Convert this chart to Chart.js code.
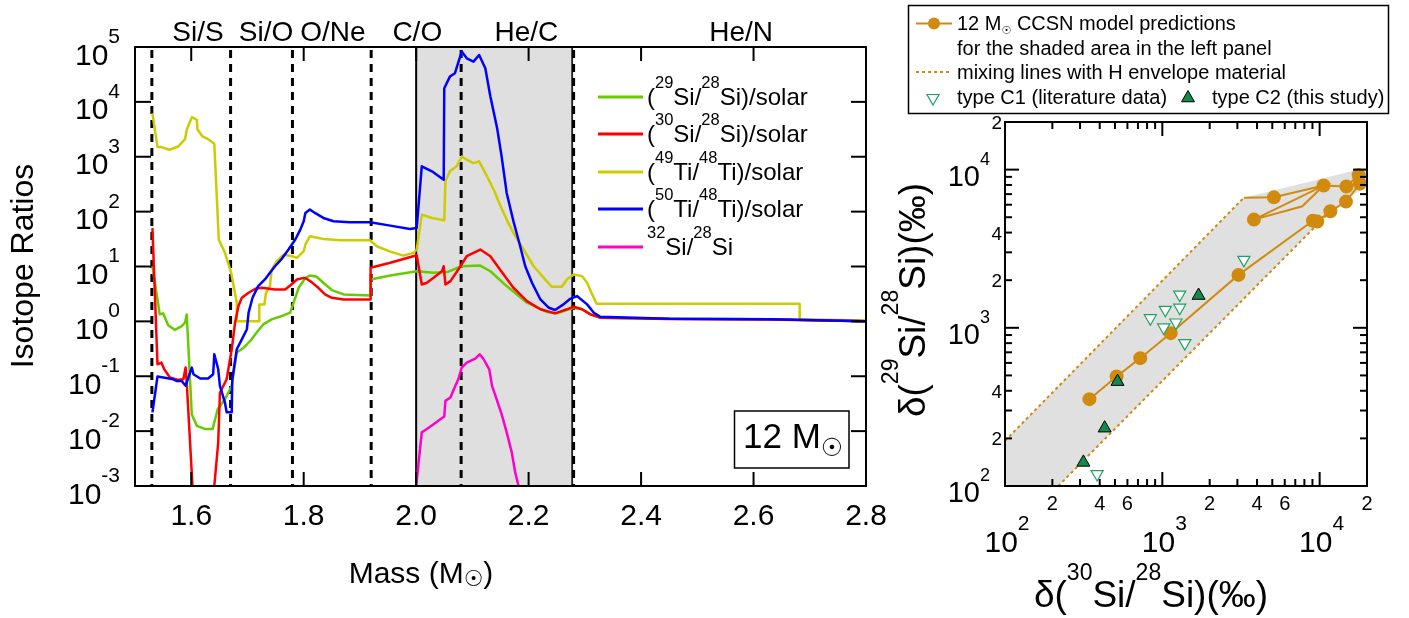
<!DOCTYPE html>
<html lang="en">
<head>
<meta charset="UTF-8">
<title>12 Msun CCSN isotope ratios</title>
<style>
    body { margin: 0; background: #fff; }
    #wrap { position: relative; width: 1409px; height: 618px; }
    canvas { position: absolute; top: 0; }
    #left { left: 0; }
    #right { left: 880px; }
</style>
<script src="https://cdn.jsdelivr.net/npm/chart.js"></script>
</head>
<body>
<div id="wrap">
    <canvas id="left" width="900" height="618"></canvas>
    <canvas id="right" width="529" height="618"></canvas>
</div>
<script>
// ---------- left panel: isotope ratios across the 12 Msun zones ----------
const si29Mass = [1.531,1.544,1.550,1.559,1.571,1.583,1.589,1.592,1.601,1.610,1.625,1.638,1.647,1.660,1.672,1.681,1.693,1.705,1.716,1.728,1.743,1.761,1.776,1.782,1.791,1.803,1.811,1.823,1.835,1.850,1.871,1.919,1.919,1.954,2.001,2.031,2.055,2.081,2.114,2.132,2.161,2.197,2.233,2.250,2.280,2.295,2.310,2.327,2.45,2.63,2.80];
const si29Ratio = [10.1,1.34,1.40,0.85,0.70,0.82,0.95,1.34,0.020,0.0125,0.0109,0.0109,0.025,0.038,0.067,0.27,0.33,0.44,0.62,0.88,1.09,1.25,1.44,2.18,4.09,6.2,6.85,6.5,5.05,3.72,3.10,2.97,5.8,6.85,8.2,7.7,7.9,10.1,10.4,8.2,4.4,2.19,1.48,1.40,1.77,1.66,1.34,1.17,1.12,1.09,1.01];

const si30Mass = [1.531,1.540,1.547,1.552,1.562,1.577,1.586,1.590,1.592,1.606,1.637,1.641,1.648,1.651,1.663,1.672,1.678,1.684,1.690,1.702,1.714,1.725,1.749,1.767,1.776,1.788,1.800,1.805,1.814,1.826,1.838,1.850,1.871,1.919,1.919,1.954,2.001,2.010,2.019,2.031,2.046,2.049,2.052,2.061,2.075,2.090,2.114,2.132,2.149,2.173,2.197,2.221,2.247,2.268,2.280,2.295,2.310,2.327,2.45,2.63,2.80];
const si30Ratio = [50,0.165,0.177,0.134,0.095,0.086,0.088,0.144,0.077,0.0002,0.0002,0.00101,0.0062,0.050,0.088,0.31,0.95,1.90,2.69,3.32,3.93,4.09,3.82,3.82,4.5,5.8,6.2,5.97,5.19,4.09,3.10,2.69,2.51,2.51,9.46,11.7,16,4.71,5.05,6.22,8.24,10.1,4.71,5.42,8.83,15.4,20.4,15.4,8.83,4.10,2.34,1.66,1.40,1.66,1.85,1.66,1.34,1.17,1.11,1.08,1.01];

const ti49Mass = [1.531,1.540,1.547,1.561,1.577,1.589,1.592,1.601,1.610,1.611,1.620,1.630,1.641,1.649,1.660,1.671,1.681,1.681,1.721,1.721,1.730,1.733,1.740,1.743,1.752,1.764,1.779,1.788,1.800,1.803,1.811,1.835,1.865,1.918,1.930,1.954,1.977,1.995,2.001,2.010,2.028,2.050,2.052,2.060,2.072,2.081,2.090,2.102,2.112,2.123,2.138,2.149,2.161,2.173,2.191,2.209,2.227,2.241,2.259,2.268,2.280,2.295,2.304,2.313,2.321,2.682,2.682,2.80];
const ti49Ratio = [6200,1500,1500,1340,1540,2090,3100,5260,4700,3180,2340,2090,1720,31,17.7,7.66,2.18,1.01,1.01,2.04,2.04,3.32,4.39,8.8,12.5,16.5,15.4,14.4,19.0,25.1,35.6,31.8,30.1,30.1,23.4,18.7,15.8,17.7,20.4,88,76.7,69.7,357,542,668,1010,883,767,824,506,251,134,71.6,41.0,20.4,10.1,6.22,4.28,4.28,5.81,7.16,6.68,5.05,3.10,2.10,2.10,1.09,1.04];

const ti50Mass = [1.531,1.540,1.568,1.574,1.583,1.590,1.595,1.601,1.604,1.616,1.630,1.639,1.641,1.648,1.651,1.660,1.663,1.672,1.673,1.681,1.690,1.699,1.702,1.709,1.719,1.731,1.740,1.749,1.761,1.773,1.785,1.794,1.800,1.803,1.811,1.820,1.835,1.853,1.882,1.918,1.954,1.989,2.001,2.010,2.028,2.049,2.050,2.060,2.069,2.081,2.090,2.102,2.112,2.123,2.132,2.144,2.152,2.161,2.173,2.185,2.194,2.206,2.221,2.236,2.247,2.262,2.274,2.286,2.304,2.316,2.327,2.45,2.63,2.80];
const ti50Ratio = [0.022,0.099,0.088,0.082,0.082,0.067,0.095,0.144,0.109,0.091,0.091,0.109,0.251,0.134,0.067,0.033,0.022,0.022,0.088,0.31,0.47,0.72,1.44,2.69,4.39,5.81,7.67,10.1,13.8,20.4,31,47,66.7,94.6,109,94.6,76.7,66.7,64,64,55.6,48.4,50.5,668,542,382,17700,28900,33300,82400,62200,54200,71600,41000,12500,3320,1010,219,66.8,23.4,10.1,5.05,2.51,1.77,1.61,2.04,2.58,2.89,2.04,1.44,1.22,1.12,1.09,1.01];

const si32Mass = [2.000,2.010,2.019,2.031,2.043,2.050,2.052,2.061,2.067,2.075,2.081,2.090,2.105,2.113,2.120,2.130,2.135,2.143,2.152,2.161,2.170,2.176,2.182];
const si32Ratio = [0.001,0.0095,0.0109,0.0134,0.0165,0.0185,0.0356,0.0409,0.0581,0.0881,0.144,0.177,0.209,0.251,0.204,0.134,0.0667,0.0382,0.0204,0.0095,0.0041,0.0018,0.001];

const zoneBounds = [1.53, 1.67, 1.78, 1.92, 2.08, 2.28];
const zoneNames = ['Si/S', 'Si/O', 'O/Ne', 'C/O', 'He/C', 'He/N'];
const shadedMass = [2.0, 2.28];
const massTicks = [1.6, 1.8, 2.0, 2.2, 2.4, 2.6, 2.8];
const ratioDecades = [-3, -2, -1, 0, 1, 2, 3, 4, 5];

// ---------- right panel: delta values ----------
const modelD30 = [3300,5120,10600,3820,7760,10600,14800,17700,18000,14700,11700,9660,9060,3050,1130,724,512,344];
const modelD29 = [6650,6680,7930,4830,5860,7930,7830,9230,8150,6280,5450,4700,4750,2160,925,643,492,354];
const modelMarker = [0,1,1,1,0,0,1,1,1,1,1,1,1,1,1,1,1,1];
const mixUpperD30 = [100, 3300];
const mixUpperD29 = [193, 6650];
const mixLowerD30 = [218, 11700];
const mixLowerD29 = [100, 5450];
const shadeD30 = [100, 100, 3300, 20000, 20000, 11700, 218];
const shadeD29 = [100, 193, 6650, 10300, 8000, 5450, 100];
const c1D30 = [3300, 1290, 1290, 1045, 839, 1020, 1220, 1390, 385];
const c1D29 = [2690, 1620, 1340, 1300, 1150, 1005, 1080, 800, 119];
const c2D30 = [1700, 519, 430, 315];
const c2D29 = [1600, 457, 232, 141];
const deltaDecades = [2, 3, 4];

const FONT = '"Liberation Sans", Arial, sans-serif';
const ORANGE = '#d08b0f';

// text with superscripts (kind 1) and the solar symbol (kind 2)
function rich(ctx, segs, x, y, o) {
    const fontOf = k => k === 1 ? o.sup + 'px ' + FONT : k === 2 ? o.sun + 'px "DejaVu Sans"' : o.size + 'px ' + FONT;
    const widths = segs.map(([t, k]) => { ctx.font = fontOf(k); return ctx.measureText(t).width; });
    const total = widths.reduce((s, w) => s + w, 0);
    let cx = o.align === 'center' ? x - total / 2 : o.align === 'right' ? x - total : x;
    ctx.textAlign = 'left';
    ctx.textBaseline = 'alphabetic';
    segs.forEach(([t, k], i) => {
        ctx.font = fontOf(k);
        const dy = k === 1 ? -o.size * 0.72 : k === 2 ? (o.sunDy || 0) : 0;
        ctx.fillText(t, cx, y + dy);
        cx += widths[i];
    });
    return total;
}

function line(ctx, x0, y0, x1, y1) {
    ctx.beginPath(); ctx.moveTo(x0, y0); ctx.lineTo(x1, y1); ctx.stroke();
}

function triangle(ctx, x, y, r, down) {
    const h = down ? -1 : 1;
    ctx.beginPath();
    ctx.moveTo(x, y - h * r);
    ctx.lineTo(x + r * 0.866, y + h * r * 0.5);
    ctx.lineTo(x - r * 0.866, y + h * r * 0.5);
    ctx.closePath();
}

const leftLegend = [
    { color: '#66cc00', segs: [['(', 0], ['29', 1], ['Si/', 0], ['28', 1], ['Si)/solar', 0]] },
    { color: '#ff0000', segs: [['(', 0], ['30', 1], ['Si/', 0], ['28', 1], ['Si)/solar', 0]] },
    { color: '#cccc00', segs: [['(', 0], ['49', 1], ['Ti/', 0], ['48', 1], ['Ti)/solar', 0]] },
    { color: '#0000ff', segs: [['(', 0], ['50', 1], ['Ti/', 0], ['48', 1], ['Ti)/solar', 0]] },
    { color: '#ff00cc', segs: [['32', 1], ['Si/', 0], ['28', 1], ['Si', 0]] }
];
const zoneLabelMass = [1.612, 1.733, 1.852, 2.002, 2.196, 2.578];

const leftDeco = {
    id: 'leftDeco',
    beforeDatasetsDraw(chart) {
        const { ctx, chartArea: a, scales: { x } } = chart;
        ctx.save();
        const s0 = x.getPixelForValue(shadedMass[0]);
        const s1 = x.getPixelForValue(shadedMass[1]);
        ctx.fillStyle = '#dfdfdf';
        ctx.fillRect(s0, a.top, s1 - s0, a.bottom - a.top);
        ctx.strokeStyle = '#000';
        ctx.lineWidth = 2;
        line(ctx, s0, a.top, s0, a.bottom);
        ctx.lineWidth = 1.5;
        line(ctx, s1 - 1.5, a.top, s1 - 1.5, a.bottom);
        ctx.lineWidth = 3;
        ctx.setLineDash([8, 6]);
        zoneBounds.forEach(m => {
            const px = x.getPixelForValue(m);
            line(ctx, px, a.top + 3, px, a.bottom);
        });
        ctx.restore();
    },
    afterDatasetsDraw(chart) {
        const { ctx, chartArea: a, scales: { x, y } } = chart;
        ctx.save();
        ctx.strokeStyle = '#000';
        ctx.lineWidth = 2;
        ctx.strokeRect(a.left, a.top, a.right - a.left, a.bottom - a.top);
        massTicks.forEach(m => {
            const px = x.getPixelForValue(m);
            line(ctx, px, a.bottom, px, a.bottom - 14);
            line(ctx, px, a.top, px, a.top + 14);
        });
        ratioDecades.forEach(e => {
            const py = y.getPixelForValue(Math.pow(10, e));
            line(ctx, a.left, py, a.left + 16, py);
            line(ctx, a.right, py, a.right - 15, py);
        });
        ctx.restore();
    },
    afterDraw(chart) {
        const { ctx, chartArea: a, scales: { x, y } } = chart;
        ctx.save();
        ctx.fillStyle = '#000';
        // tick labels
        ctx.font = '30px ' + FONT;
        ctx.textAlign = 'center';
        ctx.textBaseline = 'alphabetic';
        massTicks.forEach(m => ctx.fillText(m.toFixed(1), x.getPixelForValue(m), a.bottom + 39));
        ratioDecades.forEach(e => {
            const py = y.getPixelForValue(Math.pow(10, e));
            rich(ctx, [['10', 0], [String(e), 1]], 120, py + 17.5, { size: 30, sup: 21, align: 'right' });
        });
        // zone names
        ctx.font = '28px ' + FONT;
        ctx.textAlign = 'center';
        zoneNames.forEach((n, i) => ctx.fillText(n, x.getPixelForValue(zoneLabelMass[i]), 41));
        // axis titles
        rich(ctx, [['Mass (M', 0], ['\u2609', 2], [')', 0]], 421, 583, { size: 30, sup: 20, sun: 22, sunDy: 3, align: 'center' });
        ctx.save();
        ctx.translate(33, 266);
        ctx.rotate(-Math.PI / 2);
        ctx.font = '32px ' + FONT;
        ctx.textAlign = 'center';
        ctx.fillText('Isotope Ratios', 0, 0);
        ctx.restore();
        // legend
        leftLegend.forEach((item, i) => {
            const ly = [97, 134, 172, 209, 247][i];
            ctx.strokeStyle = item.color;
            ctx.lineWidth = 3;
            line(ctx, 598, ly, 643, ly);
            ctx.fillStyle = '#000';
            rich(ctx, item.segs, 647, ly + 8, { size: 24, sup: 16.5 });
        });
        // mass box
        ctx.strokeStyle = '#000';
        ctx.lineWidth = 1.5;
        ctx.strokeRect(734.5, 411, 114.5, 57);
        rich(ctx, [['12 M', 0], ['\u2609', 2]], 743, 448, { size: 35, sup: 20, sun: 25, sunDy: 8 });
        ctx.restore();
    }
};

const series = [
    { mass: ti50Mass, ratio: ti50Ratio, color: '#0000ff', order: 0 },
    { mass: si30Mass, ratio: si30Ratio, color: '#ff0000', order: 1 },
    { mass: si29Mass, ratio: si29Ratio, color: '#66cc00', order: 2 },
    { mass: ti49Mass, ratio: ti49Ratio, color: '#cccc00', order: 3 },
    { mass: si32Mass, ratio: si32Ratio, color: '#ff00cc', order: 4 }
];

new Chart(document.getElementById('left'), {
    type: 'line',
    data: {
        datasets: series.map(s => ({
            data: s.mass.map((m, i) => ({ x: m, y: s.ratio[i] })),
            borderColor: s.color,
            borderWidth: 2.5,
            borderJoinStyle: 'round',
            pointRadius: 0,
            tension: 0,
            fill: false,
            order: s.order
        }))
    },
    options: {
        responsive: false,
        animation: false,
        layout: { padding: { left: 135, top: 47, right: 34, bottom: 132 }, autoPadding: false },
        plugins: { legend: { display: false }, tooltip: { enabled: false } },
        scales: {
            x: { type: 'linear', min: 1.5, max: 2.8, display: false },
            y: { type: 'logarithmic', min: 1e-3, max: 1e5, display: false }
        }
    },
    plugins: [leftDeco]
});

// ---------- right panel ----------
const pts = (xs, ys) => xs.map((v, i) => ({ x: v, y: ys[i] }));

const rightDeco = {
    id: 'rightDeco',
    afterDatasetsDraw(chart) {
        const { ctx, chartArea: a, scales: { x, y } } = chart;
        ctx.save();
        ctx.strokeStyle = '#000';
        ctx.lineWidth = 2;
        ctx.strokeRect(a.left, a.top, a.right - a.left, a.bottom - a.top);
        deltaDecades.forEach(e => {
            for (let k = 1; k <= 9; k++) {
                const v = k * Math.pow(10, e);
                if (v > 20000) break;
                const len = k === 1 ? 14 : 7;
                const px = x.getPixelForValue(v);
                const py = y.getPixelForValue(v);
                line(ctx, px, a.bottom, px, a.bottom - len);
                line(ctx, px, a.top, px, a.top + len);
                line(ctx, a.left, py, a.left + len, py);
                line(ctx, a.right, py, a.right - len, py);
            }
        });
        ctx.restore();
    },
    afterDraw(chart) {
        const { ctx, chartArea: a, scales: { x, y } } = chart;
        ctx.save();
        ctx.fillStyle = '#000';
        // minor labels
        ctx.textBaseline = 'alphabetic';
        ctx.font = '20px ' + FONT;
        ctx.textAlign = 'center';
        [200, 400, 600, 2000, 4000, 6000, 20000].forEach(v =>
            ctx.fillText(String(v).charAt(0), x.getPixelForValue(v), a.bottom + 24));
        ctx.font = '19px ' + FONT;
        ctx.textAlign = 'right';
        [200, 400, 2000, 4000, 20000].forEach(v =>
            ctx.fillText(String(v).charAt(0), a.left - 3, y.getPixelForValue(v) + 7));
        // decade labels
        deltaDecades.forEach(e => {
            const v = Math.pow(10, e);
            rich(ctx, [['10', 0], [String(e), 1]], x.getPixelForValue(v) + 2, a.bottom + 66, { size: 30, sup: 21, align: 'center' });
            rich(ctx, [['10', 0], [String(e), 1]], a.left - 15, y.getPixelForValue(v) + 16, { size: 29, sup: 18, align: 'right' });
        });
        // axis titles
        rich(ctx, [['\u03b4(', 0], ['30', 1], ['Si/', 0], ['28', 1], ['Si)(\u2030)', 0]], 271, 607, { size: 37, sup: 23, align: 'center' });
        ctx.save();
        ctx.translate(45, 300);
        ctx.rotate(-Math.PI / 2);
        rich(ctx, [['\u03b4(', 0], ['29', 1], ['Si/', 0], ['28', 1], ['Si)(\u2030)', 0]], 0, 0, { size: 37, sup: 23, align: 'center' });
        ctx.restore();
        // legend box
        ctx.strokeStyle = '#000';
        ctx.lineWidth = 1.5;
        ctx.strokeRect(28.5, 5.5, 480, 108);
        ctx.strokeStyle = ORANGE;
        ctx.lineWidth = 2;
        line(ctx, 36, 23.5, 72, 23.5);
        ctx.fillStyle = ORANGE;
        ctx.beginPath(); ctx.arc(54, 23.5, 6, 0, Math.PI * 2); ctx.fill();
        ctx.setLineDash([3, 3]);
        line(ctx, 36, 72, 72, 72);
        ctx.setLineDash([]);
        ctx.fillStyle = '#fff';
        ctx.strokeStyle = '#1fa060';
        ctx.lineWidth = 1.2;
        triangle(ctx, 53, 98, 7, true); ctx.fill(); ctx.stroke();
        ctx.fillStyle = '#13894b';
        ctx.strokeStyle = '#000';
        ctx.lineWidth = 1;
        triangle(ctx, 308, 98, 7.5, false); ctx.fill(); ctx.stroke();
        ctx.fillStyle = '#000';
        rich(ctx, [['12 M', 0], ['\u2609', 2], [' CCSN model predictions', 0]], 77, 30, { size: 20, sup: 14, sun: 11, sunDy: 3.5 });
        ctx.font = '20px ' + FONT;
        ctx.textAlign = 'left';
        ctx.fillText('for the shaded area in the left panel', 77, 55);
        ctx.fillText('mixing lines with H envelope material', 77, 79);
        ctx.fillText('type C1 (literature data)', 77, 104);
        ctx.fillText('type C2 (this study)', 332, 104);
        ctx.restore();
    }
};

new Chart(document.getElementById('right'), {
    type: 'scatter',
    data: {
        datasets: [
            { data: pts(shadeD30, shadeD29), showLine: true, fill: 'shape', backgroundColor: '#e0e0e0',
              borderColor: 'rgba(0,0,0,0)', borderWidth: 0, pointRadius: 0, order: 5 },
            { data: pts(mixUpperD30, mixUpperD29), showLine: true, borderColor: ORANGE, borderWidth: 2,
              borderDash: [3, 3], pointRadius: 0, order: 4 },
            { data: pts(mixLowerD30, mixLowerD29), showLine: true, borderColor: ORANGE, borderWidth: 2,
              borderDash: [3, 3], pointRadius: 0, order: 3 },
            { data: pts(modelD30, modelD29), showLine: true, borderColor: ORANGE, borderWidth: 2,
              pointRadius: modelMarker.map(m => m ? 6 : 0), pointBackgroundColor: ORANGE,
              pointBorderColor: ORANGE, order: 2 },
            { data: pts(c1D30, c1D29), pointStyle: 'triangle', rotation: 180, pointRadius: 7,
              pointBackgroundColor: '#ffffff', pointBorderColor: '#1fa060', pointBorderWidth: 1.2, order: 1 },
            { data: pts(c2D30, c2D29), pointStyle: 'triangle', pointRadius: 7.5,
              pointBackgroundColor: '#13894b', pointBorderColor: '#000', pointBorderWidth: 1, order: 0 }
        ]
    },
    options: {
        responsive: false,
        animation: false,
        layout: { padding: { left: 125, top: 122, right: 42, bottom: 132 }, autoPadding: false },
        plugins: { legend: { display: false }, tooltip: { enabled: false } },
        scales: {
            x: { type: 'logarithmic', min: 100, max: 20000, display: false },
            y: { type: 'logarithmic', min: 100, max: 20000, display: false }
        }
    },
    plugins: [rightDeco]
});
</script>
</body>
</html>
